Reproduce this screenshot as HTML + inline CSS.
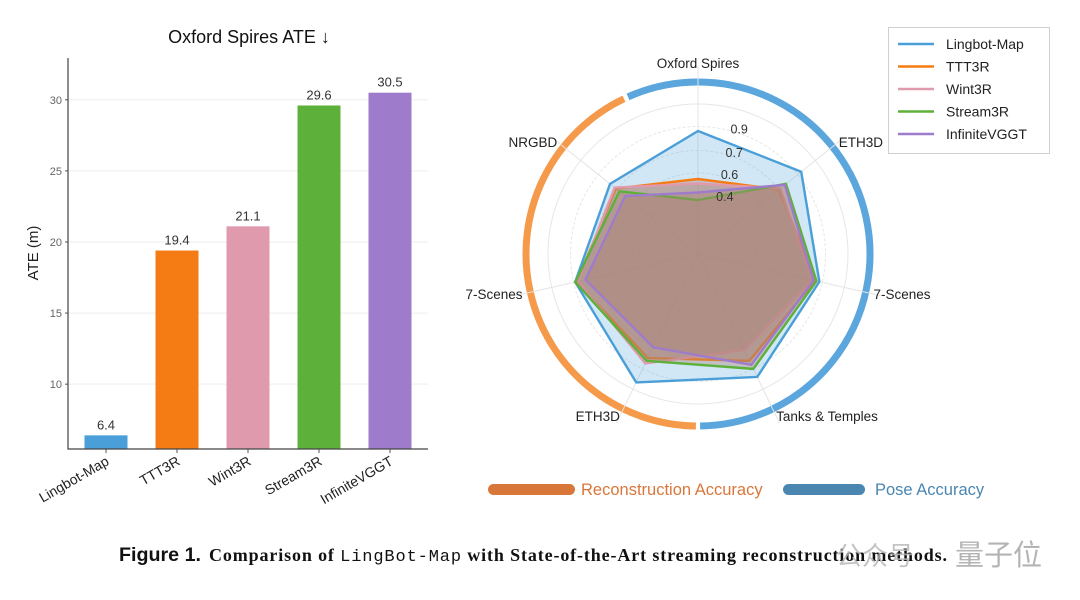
<!DOCTYPE html>
<html><head><meta charset="utf-8"><style>
html,body{margin:0;padding:0;background:#fff;width:1080px;height:600px;overflow:hidden}
svg{display:block}
text{font-family:"Liberation Sans","DejaVu Sans",sans-serif}
</style></head><body>
<svg id="fig" width="1080" height="600" viewBox="0 0 1080 600">
<g id="bar"></g>
<g id="radar"></g>
<g id="legend">
 <rect x="888.5" y="27.5" width="161" height="126" fill="#fff" stroke="#d0d0d0"/>
</g>
<g>
 <rect x="488" y="484" width="87" height="11" rx="5.5" fill="#d9773a"/>
 <text x="581" y="495" font-size="16.5" fill="#d9773a">Reconstruction Accuracy</text>
 <rect x="783" y="484" width="82" height="11" rx="5.5" fill="#4a86b0"/>
 <text x="875" y="495" font-size="16.5" fill="#4a86b0">Pose Accuracy</text>
</g>
<g>
 <text x="119" y="561" font-size="19" font-weight="bold" fill="#111" textLength="82" lengthAdjust="spacingAndGlyphs">Figure 1.</text>
 <text x="209" y="561" font-size="18" font-weight="bold" fill="#111" textLength="738" style="font-family:'Liberation Serif',serif">Comparison of <tspan style="font-family:'Liberation Mono',monospace;font-weight:normal" font-size="17">LingBot-Map</tspan> with State-of-the-Art streaming reconstruction methods.</text>
 <text x="836" y="565" font-size="26" fill="#b5b5b5" style="font-family:'Liberation Sans','Noto Sans CJK SC',sans-serif" opacity="0.8">公众号</text>
 <text x="955" y="565" font-size="29" fill="#a8a8a8" style="font-family:'Liberation Sans','Noto Sans CJK SC',sans-serif" opacity="0.85">量子位</text>
</g>
</svg>
<script>
const NS='http://www.w3.org/2000/svg';
function mk(p,t,a){const e=document.createElementNS(NS,t);for(const k in a)e.setAttribute(k,a[k]);p.appendChild(e);return e;}
const colors=['#4a9fd8','#f57c14','#e09aae','#5db03a','#9e7ccb'];

// ---- bar chart data ----
const barCategories=['Lingbot-Map','TTT3R','Wint3R','Stream3R','InfiniteVGGT'];
const barValues=[6.4,19.4,21.1,29.6,30.5];
const barTicks=[10,15,20,25,30];

const bg=document.getElementById('bar');
const yMin=5.44,yMax=32.94,pxTop=58,pxBot=449,axL=68,axR=428;
const y=v=>pxBot-(v-yMin)/(yMax-yMin)*(pxBot-pxTop);
const x=i=>106+i*71;
barTicks.forEach(t=>{
  const g=mk(bg,'line',{x1:axL,x2:axR,y1:y(t),y2:y(t),stroke:'#eeeeee','stroke-width':1});
  
  const tx=mk(bg,'text',{x:axL-6,y:y(t)+4,'font-size':11,fill:'#666','text-anchor':'end'});tx.textContent=t;
  
  const tk=mk(bg,'line',{x1:axL-3,x2:axL,y1:y(t),y2:y(t),stroke:'#555'});
  
});
barValues.forEach((v,i)=>{
  const r=mk(bg,'rect',{x:x(i)-21.5,y:y(v),width:43,height:pxBot-y(v),fill:colors[i]});
  
  const l=mk(bg,'text',{x:x(i),y:y(v)-6,'font-size':13,fill:'#333','text-anchor':'middle'});l.textContent=v.toFixed(1);
  
  const tk=mk(bg,'line',{x1:x(i),x2:x(i),y1:pxBot,y2:pxBot+4,stroke:'#555'});
  
  const c=mk(bg,'text',{x:x(i)+4,y:pxBot+15,'font-size':14,fill:'#222','text-anchor':'end',transform:`rotate(-30 ${x(i)+4} ${pxBot+15})`});c.textContent=barCategories[i];
  
});
let a=mk(bg,'path',{d:`M${axL} ${pxTop}V${pxBot}H${axR}`,fill:'none',stroke:'#444','stroke-width':1.2});

let yt=mk(bg,'text',{x:38,y:253,'font-size':15,fill:'#222','text-anchor':'middle',transform:'rotate(-90 38 253)'});yt.textContent='ATE (m)';

let tt=mk(bg,'text',{x:249,y:43,'font-size':18,fill:'#111','text-anchor':'middle'});tt.textContent='Oxford Spires ATE ↓';


// ---- radar data ----
const radarAxes=['Oxford Spires','ETH3D','7-Scenes','Tanks & Temples','ETH3D','7-Scenes','NRGBD'];
const radarSeries=['Lingbot-Map','TTT3R','Wint3R','Stream3R','InfiniteVGGT'];
const lingbotVals=[0.82,0.88,0.83,0.91,0.95,0.84,0.75];
const ttt3rVals=[0.50,0.69,0.80,0.79,0.77,0.83,0.70];
const wint3rVals=[0.47,0.70,0.78,0.71,0.81,0.82,0.71];
const stream3rVals=[0.36,0.75,0.81,0.85,0.79,0.84,0.67];
const infiniteVals=[0.41,0.74,0.79,0.82,0.69,0.77,0.62];
const gridVals=[0.39,0.54,0.69,0.85];
const gridLabels=['0.4','0.6','0.7','0.9'];

const rg=document.getElementById('radar');
const cx=698,cy=254,R=150;
const ang=i=>(-90+i*360/7)*Math.PI/180;
const pt=(i,v)=>[cx+R*v*Math.cos(ang(i)),cy+R*v*Math.sin(ang(i))];
function arc(a0,a1,r){const p=d=>[cx+r*Math.sin(d*Math.PI/180),cy-r*Math.cos(d*Math.PI/180)];const s=p(a0),e=p(a1);return `M${s[0]} ${s[1]}A${r} ${r} 0 ${(a1-a0)>180?1:0} 1 ${e[0]} ${e[1]}`;}
let ring=mk(rg,'path',{d:arc(-24,179.3,172),fill:'none',stroke:'#5aa6dd','stroke-width':7});

ring=mk(rg,'path',{d:arc(180.7,334.5,172),fill:'none',stroke:'#f59a4a','stroke-width':7});

gridVals.concat([1.0]).forEach(g=>{const c=mk(rg,'circle',{cx,cy,r:R*g,fill:'none',stroke:'#e6e6e6','stroke-dasharray':g<1?'3 2':'none'});
  });
radarAxes.forEach((n,i)=>{
  const e=pt(i,1.25);const l=mk(rg,'line',{x1:cx,y1:cy,x2:e[0],y2:e[1],stroke:'#e4e4e4'});
  
  const lp=pt(i,1.2);const c=Math.cos(ang(i));
  const t=mk(rg,'text',{x:lp[0],y:lp[1]+(i===0?-6:5),'font-size':13.5,fill:'#222','text-anchor':Math.abs(c)<0.1?'middle':(c>0?'start':'end')});
  t.textContent=n;
});
const allVals=[lingbotVals,ttt3rVals,wint3rVals,stream3rVals,infiniteVals];
allVals.forEach((vals,s)=>{
  const d=vals.map((v,i)=>pt(i,v).join(',')).join(' ');
  const p=mk(rg,'polygon',{points:d,fill:s===0?'rgba(90,170,220,0.28)':'rgba(170,130,115,0.38)',stroke:colors[s],'stroke-width':2.4,'stroke-linejoin':'round'});
  
});
gridVals.forEach((g,k)=>{const a2=-78*Math.PI/180;
  const t=mk(rg,'text',{x:cx+R*g*Math.cos(a2)+6,y:cy+R*g*Math.sin(a2)+4,'font-size':12.5,fill:'#333','text-anchor':'start'});
  t.textContent=gridLabels[k];});

const lg=document.getElementById('legend');
radarSeries.forEach((n,i)=>{const yy=44+i*22.5;
  const l=mk(lg,'line',{x1:898,x2:934,y1:yy,y2:yy,stroke:colors[i],'stroke-width':2.4});
  
  const t=mk(lg,'text',{x:946,y:yy+5,'font-size':14,fill:'#222'});t.textContent=n;
  });
</script>
</body></html>
